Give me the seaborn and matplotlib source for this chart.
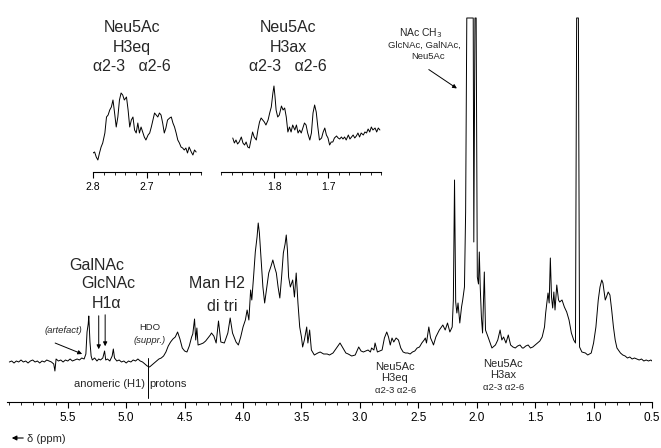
import numpy as np
import pandas as pd
import seaborn as sns
from matplotlib import pyplot as plt
from matplotlib.ticker import MultipleLocator, FixedLocator, FormatStrFormatter

# 1H NMR spectrum, chemical shift (ppm) and intensity (a.u.)
shift = [6.00, 5.98, 5.96, 5.94, 5.92, 5.90, 5.88, 5.86, 5.84, 5.82, 5.80, 5.78, 5.76, 5.74,
         5.72, 5.70, 5.68, 5.66, 5.64, 5.62, 5.61, 5.60, 5.58, 5.56, 5.54, 5.52, 5.50, 5.48,
         5.46, 5.44, 5.42, 5.40, 5.38, 5.36, 5.345, 5.335, 5.325, 5.32, 5.31, 5.30, 5.29, 5.27,
         5.25, 5.235, 5.22, 5.20, 5.185, 5.175, 5.16, 5.14, 5.12, 5.11, 5.10, 5.08, 5.06, 5.04,
         5.02, 5.00, 4.98, 4.96, 4.94, 4.92, 4.90, 4.88, 4.86, 4.84, 4.82, 4.80, 4.78, 4.76,
         4.74, 4.72, 4.70, 4.68, 4.66, 4.64, 4.62, 4.60, 4.58, 4.56, 4.54, 4.52, 4.50, 4.48,
         4.46, 4.44, 4.43, 4.415, 4.405, 4.395, 4.385, 4.36, 4.34, 4.32, 4.30, 4.28, 4.27, 4.25,
         4.23, 4.21, 4.19, 4.16, 4.13, 4.11, 4.09, 4.06, 4.04, 4.02, 4.00, 3.98, 3.965, 3.95,
         3.935, 3.925, 3.91, 3.895, 3.88, 3.87, 3.86, 3.845, 3.83, 3.815, 3.80, 3.78, 3.76, 3.745,
         3.73, 3.715, 3.70, 3.685, 3.67, 3.655, 3.64, 3.63, 3.62, 3.61, 3.595, 3.575, 3.56, 3.545,
         3.53, 3.515, 3.50, 3.49, 3.475, 3.455, 3.445, 3.43, 3.415, 3.39, 3.36, 3.34, 3.31, 3.28,
         3.26, 3.23, 3.20, 3.17, 3.15, 3.12, 3.10, 3.07, 3.04, 3.01, 2.99, 2.97, 2.95, 2.93,
         2.91, 2.90, 2.88, 2.87, 2.85, 2.83, 2.81, 2.79, 2.77, 2.755, 2.74, 2.725, 2.71, 2.69,
         2.67, 2.65, 2.63, 2.61, 2.59, 2.57, 2.55, 2.53, 2.51, 2.49, 2.47, 2.45, 2.44, 2.43,
         2.41, 2.395, 2.38, 2.37, 2.35, 2.32, 2.29, 2.27, 2.25, 2.23, 2.21, 2.20, 2.19, 2.18,
         2.17, 2.16, 2.145, 2.13, 2.12, 2.105, 2.095, 2.085, 2.03, 2.025, 2.015, 2.005, 1.995, 1.985,
         1.978, 1.97, 1.96, 1.95, 1.935, 1.925, 1.90, 1.87, 1.84, 1.82, 1.80, 1.785, 1.77, 1.75,
         1.73, 1.71, 1.69, 1.67, 1.65, 1.63, 1.61, 1.60, 1.58, 1.56, 1.54, 1.52, 1.50, 1.48,
         1.46, 1.44, 1.42, 1.41, 1.39, 1.38, 1.37, 1.36, 1.35, 1.34, 1.33, 1.315, 1.30, 1.29,
         1.27, 1.25, 1.23, 1.21, 1.19, 1.17, 1.155, 1.145, 1.13, 1.12, 1.10, 1.07, 1.05, 1.02,
         1.00, 0.98, 0.96, 0.945, 0.93, 0.92, 0.90, 0.89, 0.875, 0.86, 0.845, 0.83, 0.815, 0.80,
         0.77, 0.75, 0.73, 0.71, 0.69, 0.67, 0.65, 0.63, 0.61, 0.59, 0.57, 0.55, 0.53, 0.51, 0.50]
intensity = [0, 1, -1, 1, 0, 2, 0, 1, -1, 1, 2, 0, 1, -1,
             1, 0, 2, 1, 0, -2, -9, 3, 1, 2, 0, 2, 1, 3,
             1, 2, 3, 2, 4, 3, 8, 30, 38, 46, 20, 6, 2, 4,
             1, 3, 2, 4, 11, 2, 3, 1, 6, 13, 4, 1, 2, 0,
             1, -1, 1, 0, 2, 1, 3, 1, 0, -2, -4, -5, -3, -1,
             1, 3, 4, 6, 10, 16, 20, 23, 25, 30, 23, 14, 11, 10,
             16, 25, 28, 43, 22, 34, 17, 18, 19, 21, 24, 27, 29, 26,
             19, 41, 20, 19, 29, 44, 29, 20, 17, 25, 35, 42, 52, 42,
             72, 62, 85, 110, 125, 139, 129, 102, 75, 59, 72, 89, 96, 102,
             95, 89, 75, 64, 85, 109, 118, 127, 112, 85, 75, 82, 65, 89,
             59, 35, 25, 15, 22, 35, 19, 32, 12, 7, 9, 10, 8, 8,
             7, 9, 14, 19, 15, 9, 8, 6, 7, 15, 11, 10, 11, 12,
             10, 14, 12, 19, 10, 11, 12, 24, 30, 25, 17, 24, 20, 24,
             22, 14, 10, 9, 9, 8, 10, 11, 14, 15, 19, 22, 24, 19,
             35, 24, 20, 17, 25, 32, 37, 32, 39, 30, 35, 62, 182, 60,
             49, 59, 39, 55, 62, 75, 150, 344, 344, 120, 344, 344, 85, 78,
             110, 75, 45, 29, 90, 32, 24, 14, 17, 22, 32, 22, 25, 19,
             27, 17, 15, 14, 16, 17, 14, 14, 16, 17, 14, 15, 17, 19,
             21, 25, 35, 49, 69, 59, 104, 65, 54, 70, 52, 77, 62, 60,
             62, 55, 50, 42, 29, 22, 19, 344, 344, 15, 10, 9, 7, 9,
             19, 35, 62, 75, 82, 79, 62, 65, 70, 67, 52, 35, 22, 14,
             9, 7, 6, 4, 5, 3, 4, 3, 2, 3, 1, 2, 1, 2, 1]
main_ticks = [5.5, 5.0, 4.5, 4.0, 3.5, 3.0, 2.5, 2.0, 1.5, 1.0, 0.5]

# expansion: Neu5Ac H3eq region
eq_shift = [2.800, 2.797, 2.794, 2.791, 2.788, 2.785, 2.782, 2.778, 2.775, 2.772, 2.769, 2.766,
            2.763, 2.760, 2.757, 2.754, 2.751, 2.748, 2.745, 2.742, 2.738, 2.735, 2.732, 2.729,
            2.726, 2.723, 2.720, 2.717, 2.714, 2.711, 2.708, 2.705, 2.702, 2.698, 2.695, 2.692,
            2.689, 2.686, 2.683, 2.680, 2.677, 2.674, 2.671, 2.668, 2.665, 2.662, 2.658, 2.655,
            2.652, 2.649, 2.646, 2.643, 2.640, 2.637, 2.634, 2.631, 2.628, 2.625, 2.622, 2.618,
            2.615, 2.612, 2.609]
eq_int = [19, 20, 15, 12, 19, 25, 29, 39, 55, 57, 62, 65,
          72, 59, 45, 55, 72, 79, 77, 72, 75, 62, 45, 52,
          55, 42, 39, 49, 39, 45, 40, 35, 32, 37, 39, 45,
          52, 59, 57, 55, 59, 57, 49, 39, 44, 52, 54, 55,
          49, 45, 39, 32, 29, 25, 24, 22, 24, 19, 25, 20,
          17, 22, 20]
eq_ticks = [2.8, 2.7]

# expansion: Neu5Ac H3ax region
ax_shift = [1.878, 1.875, 1.872, 1.869, 1.866, 1.862, 1.859, 1.856, 1.853, 1.850, 1.847, 1.844,
            1.841, 1.838, 1.834, 1.831, 1.828, 1.825, 1.822, 1.819, 1.816, 1.812, 1.809, 1.806,
            1.803, 1.801, 1.799, 1.797, 1.794, 1.791, 1.787, 1.784, 1.781, 1.778, 1.775, 1.772,
            1.769, 1.766, 1.762, 1.759, 1.756, 1.753, 1.750, 1.747, 1.744, 1.741, 1.738, 1.734,
            1.731, 1.728, 1.725, 1.722, 1.719, 1.716, 1.712, 1.709, 1.706, 1.703, 1.700, 1.697,
            1.694, 1.691, 1.688, 1.684, 1.681, 1.678, 1.675, 1.672, 1.669, 1.666, 1.662, 1.659,
            1.656, 1.653, 1.650, 1.647, 1.644, 1.641, 1.638, 1.634, 1.631, 1.628, 1.625, 1.622,
            1.619, 1.616, 1.612, 1.609, 1.606, 1.603]
ax_int = [34, 29, 32, 28, 30, 35, 29, 27, 30, 25, 24, 32,
          40, 35, 32, 42, 50, 54, 52, 50, 47, 52, 59, 65,
          79, 86, 75, 62, 55, 57, 66, 62, 64, 55, 40, 45,
          40, 47, 42, 47, 39, 42, 39, 44, 49, 47, 39, 32,
          39, 59, 67, 60, 45, 32, 34, 40, 44, 37, 34, 27,
          30, 30, 34, 36, 34, 33, 35, 33, 35, 32, 37, 33,
          35, 37, 34, 36, 39, 35, 39, 37, 40, 39, 43, 40,
          45, 42, 44, 40, 44, 42]
ax_ticks = [1.8, 1.7]

sns.set_style("white")
plt.rcParams['font.family'] = ['Liberation Sans', 'DejaVu Sans']

W, H = 661, 448
fig = plt.figure(figsize=(W / 100, H / 100), dpi=100)


def rect(x0, y0, x1, y1):
    # pixel box (top-left origin) -> figure fraction
    return [x0 / W, 1 - y1 / H, (x1 - x0) / W, (y1 - y0) / H]


def px(x, y):
    return x / W, 1 - y / H


def style_axis(a, ticks, minor, size):
    for s in ['left', 'right', 'top']:
        a.spines[s].set_visible(False)
    a.spines['bottom'].set_color('black')
    a.spines['bottom'].set_linewidth(0.8)
    a.set_yticks([])
    a.xaxis.set_major_locator(FixedLocator(ticks))
    a.xaxis.set_minor_locator(MultipleLocator(minor))
    a.xaxis.set_major_formatter(FormatStrFormatter('%.1f'))
    a.tick_params(axis='x', which='major', direction='out', length=4, width=0.8,
                  colors='black', labelsize=size, pad=3, bottom=True)
    a.tick_params(axis='x', which='minor', direction='out', length=2.5, width=0.6,
                  colors='black', bottom=True)
    a.set_xlabel('')
    a.set_ylabel('')
    a.patch.set_alpha(0)


# main spectrum
ax = fig.add_axes(rect(7, 16, 652, 402))
spec = pd.DataFrame({'ppm': shift, 'I': intensity})
sns.lineplot(data=spec, x='ppm', y='I', ax=ax, color='black', lw=0.7, sort=False)
ax.set_xlim(6.02, 0.5)
ax.set_ylim(-40, 346)
style_axis(ax, main_ticks, 0.1, 8.5)

# expansions
ins1 = fig.add_axes(rect(93, 80, 201, 172))
sns.lineplot(x=eq_shift, y=eq_int, ax=ins1, color='black', lw=0.7, sort=False)
ins1.set_xlim(2.8, 2.6)
ins1.set_ylim(0, 92)
style_axis(ins1, eq_ticks, 0.02, 7.5)

ins2 = fig.add_axes(rect(221, 80, 381.5, 172))
sns.lineplot(x=ax_shift, y=ax_int, ax=ins2, color='black', lw=0.7, sort=False)
ins2.set_xlim(1.9, 1.6)
ins2.set_ylim(0, 92)
style_axis(ins2, ax_ticks, 0.02, 7.5)

big = 11.5
for x, lines in [(132, ['Neu5Ac', 'H3eq', 'α2-3   α2-6']),
                 (288, ['Neu5Ac', 'H3ax', 'α2-3   α2-6'])]:
    for y, s in zip([32, 52, 71], lines):
        fig.text(*px(x, y), s, ha='center', va='baseline', fontsize=big)

fig.text(*px(97, 270), 'GalNAc', ha='center', va='baseline', fontsize=big)
fig.text(*px(108, 288), 'GlcNAc', ha='center', va='baseline', fontsize=big)
fig.text(*px(106, 308), 'H1α', ha='center', va='baseline', fontsize=big)
fig.text(*px(217, 288), 'Man H2', ha='center', va='baseline', fontsize=big)
fig.text(*px(222, 311), 'di tri', ha='center', va='baseline', fontsize=big)

arw = dict(arrowstyle='-|>', color='black', lw=0.7, mutation_scale=6)
ax.annotate('', xy=(5.235, 10), xytext=(5.235, 49), arrowprops=arw)
ax.annotate('', xy=(5.18, 13), xytext=(5.18, 50), arrowprops=arw)

fig.text(*px(63, 333), '(artefact)', ha='center', va='baseline', fontsize=6.8, style='italic')
ax.annotate('', xy=(5.355, 7), xytext=(5.63, 20), arrowprops=arw)

fig.text(*px(150, 330), 'HDO', ha='center', va='baseline', fontsize=6.8)
fig.text(*px(150, 343), '(suppr.)', ha='center', va='baseline', fontsize=6.8, style='italic')
ax.plot([4.81, 4.81], [4, -36], color='black', lw=0.7)

fig.text(*px(109, 387), 'anomeric (H1)', ha='center', va='baseline', fontsize=8)
fig.text(*px(168, 387), 'protons', ha='center', va='baseline', fontsize=8)

for x, y0, lab in [(395, 370, 'H3eq'), (503, 367, 'H3ax')]:
    fig.text(*px(x, y0), 'Neu5Ac', ha='center', va='baseline', fontsize=8)
    fig.text(*px(x, y0 + 11), lab, ha='center', va='baseline', fontsize=8)
    fig.text(*px(x + 1, y0 + 23), 'α2-3 α2-6', ha='center', va='baseline', fontsize=6.8)

fig.text(*px(421, 36), 'NAc CH$_3$', ha='center', va='baseline', fontsize=7.5)
fig.text(*px(424, 48), 'GlcNAc, GalNAc,', ha='center', va='baseline', fontsize=6.8)
fig.text(*px(428, 59), 'Neu5Ac', ha='center', va='baseline', fontsize=6.8)
ax.annotate('', xy=(2.15, 272), xytext=(2.43, 294), arrowprops=arw)

fig.text(*px(27, 442), 'δ (ppm)', ha='left', va='baseline', fontsize=8)
fig.patches.append(plt.matplotlib.patches.FancyArrowPatch(
    px(26, 438), px(9, 438), transform=fig.transFigure, arrowstyle='-|>',
    mutation_scale=7, color='black', lw=0.8))

fig.savefig('out.png', dpi=100, facecolor='white')
